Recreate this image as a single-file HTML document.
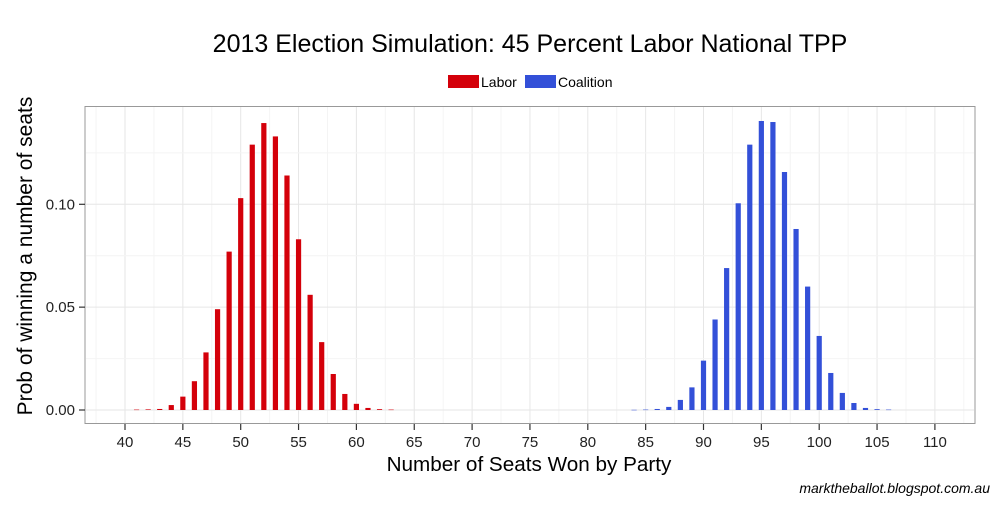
<!DOCTYPE html>
<html><head><meta charset="utf-8"><style>
body{margin:0;background:#fff;font-family:"Liberation Sans",Arial,sans-serif}
svg text{font-family:"Liberation Sans",Arial,sans-serif}
</style></head><body>
<svg id="chart" width="1000" height="500" viewBox="0 0 1000 500">
<text x="530" y="52" font-size="25" text-anchor="middle" fill="#000">2013 Election Simulation: 45 Percent Labor National TPP</text>
<g>
<rect x="448" y="75" width="31" height="13" fill="#d4000a"/>
<text x="481" y="87" font-size="14">Labor</text>
<rect x="525" y="75" width="31" height="13" fill="#3350d8"/>
<text x="558" y="87" font-size="14">Coalition</text>
</g>
<rect x="85" y="106.5" width="890" height="317" fill="#fff" stroke="#999"/>
<g id="grid"></g><g id="bars"></g><g id="axes"></g>
<text x="529" y="471" font-size="20.7" text-anchor="middle">Number of Seats Won by Party</text>
<text transform="translate(32,256) rotate(-90)" font-size="21" text-anchor="middle">Prob of winning a number of seats</text>
<text x="990" y="493" font-size="14" font-style="italic" text-anchor="end">marktheballot.blogspot.com.au</text>
</svg>
<script>
const laborSeats=[41,42,43,44,45,46,47,48,49,50,51,52,53,54,55,56,57,58,59,60,61,62,63];
const laborProb=[0.0002,0.0003,0.0005,0.0024,0.0065,0.014,0.028,0.049,0.077,0.103,0.129,0.1395,0.133,0.114,0.083,0.056,0.033,0.0175,0.0078,0.003,0.001,0.0004,0.0002];
const coalSeats=[84,85,86,87,88,89,90,91,92,93,94,95,96,97,98,99,100,101,102,103,104,105,106];
const coalProb=[0.0001,0.0002,0.0005,0.0015,0.0049,0.011,0.024,0.044,0.069,0.1005,0.129,0.1405,0.14,0.1157,0.088,0.06,0.036,0.018,0.0083,0.0034,0.001,0.0004,0.0002];
const xTicks=[40,45,50,55,60,65,70,75,80,85,90,95,100,105,110];
const yTicks=[0,0.05,0.10];
const yTickLabels=["0.00","0.05","0.10"];
const NS="http://www.w3.org/2000/svg";
const xs=v=>125+(v-40)*11.57;
const ys=v=>410-v*2057;
function mk(t,a,p){const e=document.createElementNS(NS,t);for(const k in a)e.setAttribute(k,a[k]);p.appendChild(e);return e;}
const grid=document.getElementById('grid'),bars=document.getElementById('bars'),axes=document.getElementById('axes');
for(let v=37.5;v<=113;v+=2.5){const major=v%5===0;const l=mk('line',{x1:xs(v),x2:xs(v),y1:107,y2:423,stroke:major?'#e6e6e6':'#f4f4f4','stroke-width':1},grid);

}
for(let v=-0.025;v<=0.15;v+=0.025){const y=ys(v);if(y<107||y>423)continue;const major=Math.abs(Math.round(v*40)%2)===0;const l=mk('line',{x1:86,x2:974,y1:y,y2:y,stroke:major?'#e6e6e6':'#f4f4f4','stroke-width':1},grid);

}
function drawBars(seats,probs,color,name){seats.forEach((s,i)=>{const y=ys(probs[i]);const r=mk('rect',{x:xs(s)-2.6,y:y,width:5.2,height:Math.max(410-y,0.5),fill:color},bars);

});}
drawBars(laborSeats,laborProb,'#d4000a','labor');
drawBars(coalSeats,coalProb,'#3350d8','coalition');
xTicks.forEach(v=>{const x=xs(v);const l=mk('line',{x1:x,x2:x,y1:424,y2:430,stroke:'#333','stroke-width':1.2},axes);


const t=mk('text',{x:x,y:447,'font-size':15,'text-anchor':'middle',fill:'#222'},axes);t.textContent=v;

});
yTicks.forEach((v,i)=>{const y=ys(v);const l=mk('line',{x1:79,x2:85,y1:y,y2:y,stroke:'#333','stroke-width':1.2},axes);


const t=mk('text',{x:75,y:y+5,'font-size':15,'text-anchor':'end',fill:'#222'},axes);t.textContent=yTickLabels[i];

});
</script>
</body></html>
